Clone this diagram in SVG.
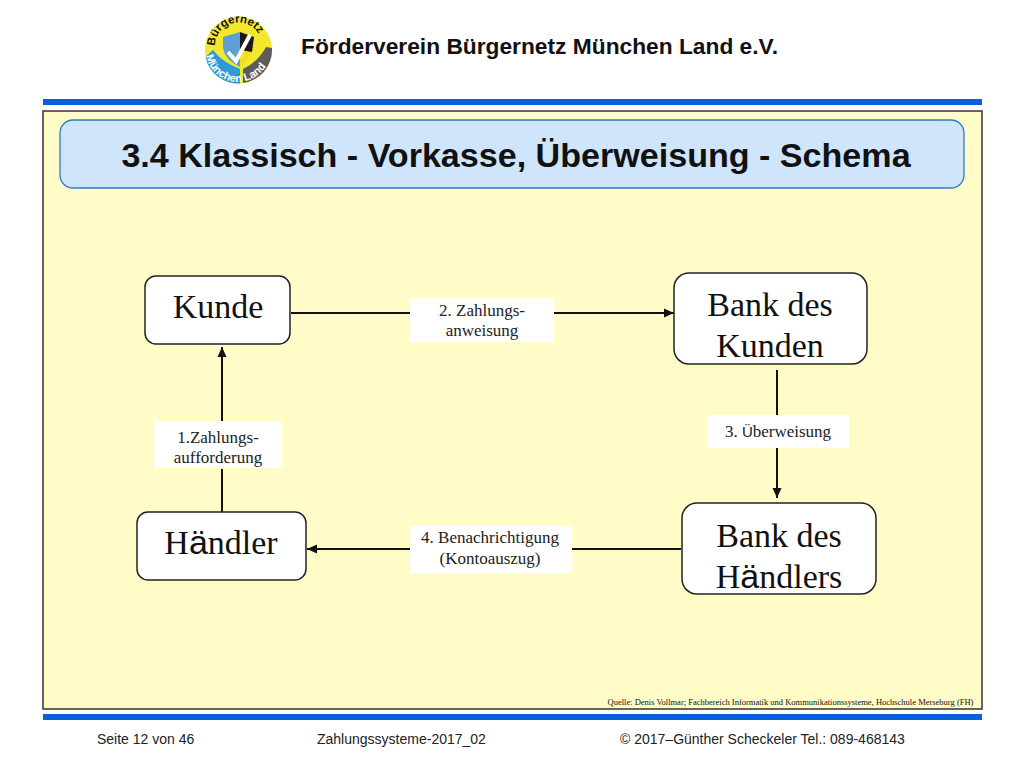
<svg xmlns="http://www.w3.org/2000/svg" width="1024" height="768" viewBox="0 0 1024 768">
<style>
.s{font-family:"Liberation Sans",Arial,sans-serif;fill:#111}
.t{font-family:"Liberation Serif","Times New Roman",serif;fill:#111;text-anchor:middle}
.n{fill:#fff;stroke:#222;stroke-width:1.5}
.big{font-size:34px}
.sm{font-size:17px;fill:#222}
.lb{fill:#fff}
.c{fill:none;stroke:#111;stroke-width:2}
.bar{fill:#0a5ee0}
.f{font-family:"Liberation Sans",Arial,sans-serif;fill:#222;font-size:14px}
.lw{font-family:"Liberation Sans",Arial,sans-serif;fill:#fff;font-size:11px;font-weight:700}
</style>
<defs>
<marker id="a" markerWidth="12" markerHeight="10" refX="10" refY="5" orient="auto" markerUnits="userSpaceOnUse"><path d="M0,0.5 L10,5 L0,9.5 Z" fill="#111"/></marker>
<path id="lb1" d="M215,46 A23,23 0 0 1 262,46"/>
<path id="lb2" d="M206,56 A33,33 0 0 0 240,82"/>
<path id="lb3" d="M245,81 A33,33 0 0 0 269,60"/>
</defs>
<rect width="1024" height="768" fill="#fff"/>
<g id="logo">
<circle cx="238.500" cy="50" r="33.500" fill="#f4e82c"/>
<path d="M205.500,57 L213,50 Q222,62 240,69 L240,83.500 A33.500,33.500 0 0 1 205.500,57Z" fill="#2b9ad8"/>
<path d="M243,83 L243,69 Q258,62 266,47 L272,48 A33.500,33.500 0 0 1 243,83Z" fill="#5c5c5c"/>
<path d="M223,37 L240,32 L240,67 Q225,60 223,48Z" fill="#5f9fd8"/>
<path d="M240,32 L254,37 L253,48 Q250,60 240,67Z" fill="#f0e020"/>
<path d="M240,32 L254,37 L252,52 L240,50Z" fill="#1a1a1a"/>
<path d="M228,52 L236,61 L250,35" stroke="#fff" stroke-width="4" fill="none"/>
<text class="s" font-size="11.500" font-weight="700"><textPath href="#lb1">Bürgernetz</textPath></text>
<text class="lw"><textPath href="#lb2">München</textPath></text>
<text class="lw"><textPath href="#lb3">Land</textPath></text>
</g>
<text id="header" class="s" x="301" y="54" font-size="21.500" font-weight="700" textLength="477" lengthAdjust="spacingAndGlyphs">Förderverein Bürgernetz München Land e.V.</text>
<rect class="bar" x="43" y="99" width="939" height="6"/>
<rect x="43" y="111" width="939" height="598" fill="#fffcc8" stroke="#333" stroke-width="1.5"/>
<g id="title">
<rect x="60" y="120" width="904" height="68" rx="13" fill="#cfe5fb" stroke="#2f79c9" stroke-width="1.3"/>
<text class="s" x="516" y="167" font-size="34.100" font-weight="700" text-anchor="middle">3.4 Klassisch - Vorkasse, Überweisung - Schema</text>
</g>
<g id="connectors">
<path class="c" d="M291,313 H410 M554,313 H674" marker-end="url(#a)"/>
<path class="c" d="M777,370 V415 M777,448 V498" marker-end="url(#a)"/>
<path class="c" d="M681,549 H572 M410,549 H307" marker-end="url(#a)"/>
<path class="c" d="M222,512 V469 M222,421 V347" marker-end="url(#a)"/>
</g>
<g id="kunde">
<rect class="n" x="145" y="276" width="145" height="68" rx="11"/>
<text class="t big" x="218" y="318">Kunde</text>
</g>
<g id="bank-kunden">
<rect class="n" x="674" y="273" width="193" height="91" rx="15"/>
<text class="t big" x="770" y="316">Bank des</text>
<text class="t big" x="770" y="357">Kunden</text>
</g>
<g id="haendler">
<rect class="n" x="137" y="512" width="169" height="68" rx="11"/>
<text class="t big" x="221" y="554">H<tspan font-family="Liberation Sans,sans-serif">ä</tspan>ndler</text>
</g>
<g id="bank-haendlers">
<rect class="n" x="682" y="503" width="194" height="91" rx="15"/>
<text class="t big" x="779" y="547">Bank des</text>
<text class="t big" x="779" y="588">H<tspan font-family="Liberation Sans,sans-serif">ä</tspan>ndlers</text>
</g>
<g id="label-2">
<rect class="lb" x="410" y="298" width="144" height="44"/>
<text class="t sm" x="482" y="316">2. Zahlungs-</text>
<text class="t sm" x="482" y="336">anweisung</text>
</g>
<g id="label-3">
<rect class="lb" x="708" y="415" width="141" height="33"/>
<text class="t sm" x="778" y="437">3. <tspan font-family="Liberation Sans,sans-serif" font-size="15">Ü</tspan>berweisung</text>
</g>
<g id="label-4">
<rect class="lb" x="410" y="526" width="162" height="47"/>
<text class="t sm" x="490" y="543">4. Benachrichtigung</text>
<text class="t sm" x="490" y="564">(Kontoauszug)</text>
</g>
<g id="label-1">
<rect class="lb" x="154" y="421" width="128" height="47"/>
<text class="t sm" x="218" y="443">1.Zahlungs-</text>
<text class="t sm" x="218" y="463">aufforderung</text>
</g>
<text class="t" x="790.500" y="705" font-size="8.500">Quelle: Denis Vollmar; Fachbereich Informatik und Kommunikationssysteme, Hochschule Merseburg (FH)</text>
<rect class="bar" x="43" y="714" width="939" height="6"/>
<text class="f" x="97" y="744">Seite 12 von 46</text>
<text class="f" x="317" y="744">Zahlungssysteme-2017_02</text>
<text class="f" x="620" y="744">© 2017–Günther Scheckeler Tel.: 089-468143</text>
</svg>
